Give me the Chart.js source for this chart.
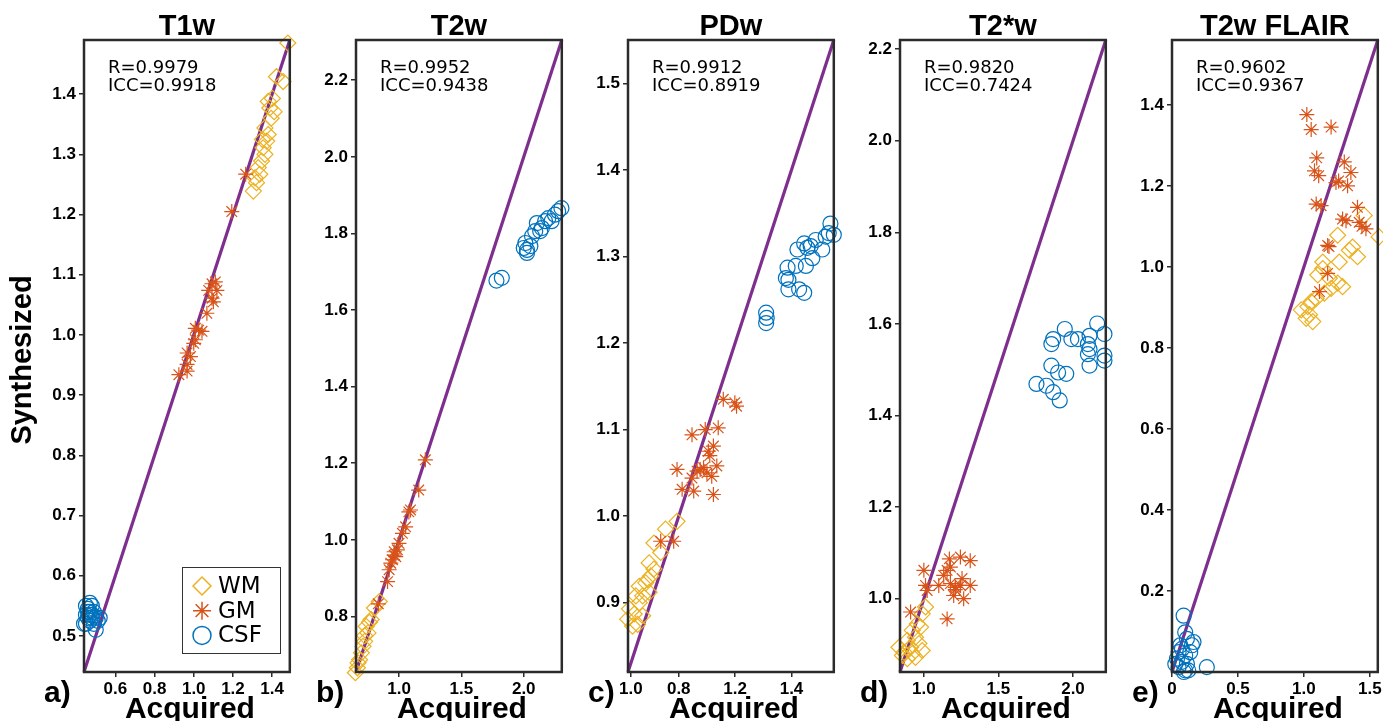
<!DOCTYPE html>
<html lang="en">
<head>
<meta charset="UTF-8">
<title>Synthesized vs Acquired</title>
<script src="https://cdn.jsdelivr.net/npm/chart.js@4.4.1/dist/chart.umd.min.js"></script>
<style>
    body { margin: 0; background: #fff; width: 1383px; height: 721px; overflow: hidden; position: relative; }
    canvas { position: absolute; top: 0; }
</style>
</head>
<body>
<script>
    // panel labels and stats
    const panelNames = ['T1w', 'T2w', 'PDw', 'T2*w', 'T2w FLAIR'];
    const panelLetters = ['a)', 'b)', 'c)', 'd)', 'e)'];
    const statR = ['0.9979', '0.9952', '0.9912', '0.9820', '0.9602'];
    const statICC = ['0.9918', '0.9438', '0.8919', '0.7424', '0.9367'];
    const tissueNames = ['WM', 'GM', 'CSF'];

    // same limits on both axes, identity line goes corner to corner
    const axisMin = [0.44, 0.655, 0.82, 0.84, 0];
    const axisMax = [1.49, 2.305, 1.55, 2.22, 1.56];

    const xTickVals = [[0.6, 0.8, 1.0, 1.2, 1.4], [1.0, 1.5, 2.0], [0.83, 1.0, 1.2, 1.4], [1.0, 1.5, 2.0], [0, 0.5, 1.0, 1.5]];
    const xTickLabels = [['0.6', '0.8', '1.0', '1.2', '1.4'], ['1.0', '1.5', '2.0'], ['1.0', '0.8', '1.2', '1.4'], ['1.0', '1.5', '2.0'], ['0', '0.5', '1.0', '1.5']];
    const yTickVals = [[0.5, 0.6, 0.7, 0.8, 0.9, 1.0, 1.1, 1.2, 1.3, 1.4], [0.8, 1.0, 1.2, 1.4, 1.6, 1.8, 2.0, 2.2], [0.9, 1.0, 1.1, 1.2, 1.3, 1.4, 1.5], [1.0, 1.2, 1.4, 1.6, 1.8, 2.0, 2.2], [0.2, 0.4, 0.6, 0.8, 1.0, 1.2, 1.4]];
    const yTickLabels = [['0.5', '0.6', '0.7', '0.8', '0.9', '1.0', '1.1', '1.2', '1.3', '1.4'], ['0.8', '1.0', '1.2', '1.4', '1.6', '1.8', '2.0', '2.2'], ['0.9', '1.0', '1.1', '1.2', '1.3', '1.4', '1.5'], ['1.0', '1.2', '1.4', '1.6', '1.8', '2.0', '2.2'], ['0.2', '0.4', '0.6', '0.8', '1.0', '1.2', '1.4']];

    // [acquired, synthesized]
    const wmT1 = [[1.48, 1.485], [1.422, 1.429], [1.456, 1.421], [1.401, 1.393], [1.388, 1.377], [1.38, 1.388], [1.41, 1.371], [1.363, 1.344], [1.38, 1.333], [1.372, 1.322], [1.354, 1.311], [1.363, 1.3], [1.346, 1.289], [1.329, 1.278], [1.337, 1.267], [1.312, 1.261], [1.32, 1.253], [1.304, 1.239], [1.395, 1.36], [1.35, 1.325]];
    const gmT1 = [[1.265, 1.267], [1.194, 1.205], [1.093, 1.085], [1.11, 1.088], [1.076, 1.074], [1.118, 1.074], [1.093, 1.061], [1.1, 1.055], [1.067, 1.036], [1.025, 1.008], [1.008, 1.011], [1.042, 1.006], [1.008, 0.992], [1.0, 0.986], [0.966, 0.97], [0.983, 0.964], [0.924, 0.934], [0.966, 0.94], [0.966, 0.951]];
    const csfT1 = [[0.45, 0.55], [0.46, 0.545], [0.47, 0.54], [0.48, 0.535], [0.46, 0.53], [0.45, 0.52], [0.47, 0.525], [0.49, 0.54], [0.5, 0.53], [0.51, 0.525], [0.48, 0.55], [0.47, 0.555], [0.46, 0.54], [0.49, 0.52], [0.5, 0.51], [0.44, 0.52], [0.45, 0.535], [0.48, 0.53], [0.47, 0.535], [0.52, 0.53]];

    const wmT2 = [[0.842, 0.839], [0.803, 0.822], [0.777, 0.792], [0.737, 0.774], [0.751, 0.757], [0.724, 0.735], [0.711, 0.722], [0.698, 0.705], [0.684, 0.687], [0.671, 0.679], [0.666, 0.666], [0.65, 0.653], [0.724, 0.75], [0.763, 0.785]];
    const gmT2 = [[1.211, 1.209], [1.158, 1.13], [1.092, 1.078], [1.079, 1.073], [1.053, 1.034], [1.027, 1.017], [1.0, 0.991], [0.987, 0.974], [0.961, 0.969], [0.974, 0.956], [0.948, 0.948], [0.934, 0.939], [0.921, 0.922], [0.908, 0.891], [0.834, 0.833], [0.961, 0.96]];
    const csfT2 = [[1.781, 1.677], [1.824, 1.684], [2.0, 1.762], [2.026, 1.749], [2.013, 1.775], [2.053, 1.767], [2.066, 1.793], [2.105, 1.827], [2.145, 1.814], [2.171, 1.832], [2.197, 1.84], [2.223, 1.832], [2.25, 1.849], [2.302, 1.866], [2.276, 1.858], [2.092, 1.806], [2.132, 1.806], [2.026, 1.757]];

    const wmPD = [[0.994, 0.994], [0.953, 0.985], [0.912, 0.969], [0.936, 0.958], [0.895, 0.946], [0.912, 0.939], [0.901, 0.931], [0.883, 0.923], [0.86, 0.919], [0.895, 0.912], [0.872, 0.908], [0.848, 0.908], [0.86, 0.9], [0.825, 0.893], [0.842, 0.887], [0.819, 0.881], [0.854, 0.875], [0.836, 0.873], [0.872, 0.885], [0.89, 0.927]];
    const gmPD = [[1.199, 1.131], [1.205, 1.127], [1.158, 1.135], [1.14, 1.102], [1.094, 1.1], [1.047, 1.094], [0.994, 1.054], [1.012, 1.031], [1.053, 1.029], [1.047, 1.044], [1.065, 1.052], [1.088, 1.056], [1.1, 1.05], [1.117, 1.046], [1.105, 1.075], [1.123, 1.081], [1.135, 1.058], [1.123, 1.025], [0.936, 0.971], [0.982, 0.971], [1.076, 1.054], [1.11, 1.07]];
    const csfPD = [[1.31, 1.235], [1.312, 1.229], [1.31, 1.223], [1.386, 1.287], [1.38, 1.275], [1.389, 1.273], [1.389, 1.262], [1.421, 1.308], [1.415, 1.289], [1.427, 1.262], [1.445, 1.258], [1.451, 1.289], [1.456, 1.31], [1.468, 1.312], [1.474, 1.298], [1.486, 1.319], [1.509, 1.308], [1.521, 1.323], [1.538, 1.338], [1.55, 1.325], [1.532, 1.327], [1.445, 1.315]];

    const wmT2s = [[1.011, 0.982], [0.989, 0.967], [0.956, 0.945], [0.978, 0.938], [0.922, 0.931], [0.944, 0.916], [0.889, 0.909], [0.967, 0.902], [0.833, 0.894], [0.911, 0.894], [0.867, 0.883], [0.922, 0.88], [0.989, 0.887], [0.889, 0.869], [0.856, 0.876], [0.944, 0.872], [0.9, 0.89]];
    const gmT2s = [[1.171, 1.087], [1.245, 1.091], [1.311, 1.083], [1.178, 1.069], [1.156, 1.062], [1.133, 1.051], [1.256, 1.044], [1.0, 1.062], [1.011, 1.029], [1.022, 1.018], [1.1, 1.029], [1.178, 1.033], [1.211, 1.025], [1.245, 1.029], [1.311, 1.029], [1.2, 1.007], [1.267, 1.0], [1.156, 0.956], [0.911, 0.971], [1.21, 1.02]];
    const csfT2s = [[2.162, 1.601], [1.945, 1.589], [1.867, 1.567], [1.855, 1.556], [1.989, 1.567], [2.033, 1.567], [2.111, 1.574], [2.211, 1.578], [2.1, 1.556], [2.111, 1.545], [2.1, 1.534], [2.211, 1.531], [1.855, 1.509], [1.9, 1.494], [1.955, 1.491], [1.755, 1.469], [1.822, 1.465], [1.867, 1.451], [1.911, 1.433], [2.111, 1.509], [2.211, 1.52]];

    const wmFL = [[1.457, 1.127], [1.256, 1.078], [1.57, 1.074], [1.369, 1.049], [1.406, 1.025], [1.344, 1.041], [1.143, 1.012], [1.268, 1.012], [1.105, 0.98], [1.143, 0.996], [1.193, 0.972], [1.256, 0.96], [1.293, 0.951], [1.206, 0.947], [1.155, 0.935], [1.093, 0.922], [0.98, 0.894], [1.03, 0.902], [1.042, 0.882], [1.067, 0.865], [1.017, 0.873], [1.055, 0.914]];
    const gmFL = [[1.022, 1.376], [1.055, 1.339], [1.206, 1.345], [1.097, 1.269], [1.08, 1.237], [1.112, 1.225], [1.306, 1.259], [1.356, 1.233], [1.243, 1.208], [1.263, 1.212], [1.331, 1.2], [1.093, 1.155], [1.13, 1.151], [1.406, 1.147], [1.293, 1.118], [1.319, 1.114], [1.419, 1.11], [1.47, 1.094], [1.44, 1.1], [1.18, 1.053], [1.19, 1.05], [1.18, 0.984], [1.118, 0.939]];
    const csfFL = [[0.088, 0.139], [0.1, 0.098], [0.113, 0.082], [0.163, 0.074], [0.151, 0.066], [0.063, 0.066], [0.05, 0.049], [0.1, 0.041], [0.038, 0.033], [0.075, 0.025], [0.113, 0.02], [0.05, 0.012], [0.1, 0.004], [0.264, 0.012], [0.138, 0.049], [0.075, 0.057], [0.123, 0.004], [0.025, 0.02], [0.09, 0.0]];

    const panelData = [
        [wmT1, gmT1, csfT1],
        [wmT2, gmT2, csfT2],
        [wmPD, gmPD, csfPD],
        [wmT2s, gmT2s, csfT2s],
        [wmFL, gmFL, csfFL]
    ];

    const tissueColors = ['#EDB120', '#D95319', '#0072BD'];
    const tissueMarkers = ['rectRot', 'star', 'circle'];
    const tissueRadius = [8, 7.5, 7.5];
    const lineColor = '#7E2F8E';
    const frameColor = '#2b2b2b';

    const PLOT_LEFT = 84, PLOT_TOP = 40, PLOT_BOTTOM = 672, PLOT_W = 208;
    const CANVAS_W = 299, CANVAS_H = 721, PANEL_STEP = 272;

    const toPoints = (arr) => arr.map(p => ({x: p[0], y: p[1]}));

    function panelTextPlugin(i) {
        return {
            id: 'panelText' + i,
            afterDraw(chart) {
                const ctx = chart.ctx;
                const a = chart.chartArea;
                const cx = (a.left + a.right) / 2;
                ctx.save();

                // box around the plot
                ctx.strokeStyle = frameColor;
                ctx.lineWidth = 2.5;
                ctx.strokeRect(a.left, a.top, a.right - a.left, a.bottom - a.top);

                ctx.fillStyle = '#000';
                ctx.textAlign = 'center';
                ctx.textBaseline = 'alphabetic';
                ctx.font = 'bold 29px "Liberation Sans", Arial, sans-serif';
                ctx.fillText(panelNames[i], cx, 35);

                ctx.font = 'bold 30px "Liberation Sans", Arial, sans-serif';
                ctx.fillText('Acquired', cx + 3, 718);

                ctx.textAlign = 'left';
                ctx.fillText(panelLetters[i], a.left - 40, 702);

                ctx.font = '18px "DejaVu Sans", sans-serif';
                ctx.fillText('R=' + statR[i], a.left + 24, 73);
                ctx.fillText('ICC=' + statICC[i], a.left + 24, 91);

                if (i === 0) {
                    // y axis title
                    ctx.save();
                    ctx.translate(23, 360);
                    ctx.rotate(-Math.PI / 2);
                    ctx.textAlign = 'center';
                    ctx.textBaseline = 'middle';
                    ctx.font = 'bold 29px "Liberation Sans", Arial, sans-serif';
                    ctx.fillText('Synthesized', 0, 0);
                    ctx.restore();

                    // legend box
                    const bx = 182, by = 567, bw = 98, bh = 86;
                    ctx.fillStyle = '#fff';
                    ctx.fillRect(bx, by, bw, bh);
                    ctx.strokeStyle = '#333';
                    ctx.lineWidth = 1;
                    ctx.strokeRect(bx + 0.5, by + 0.5, bw, bh);
                    ctx.font = '23px "DejaVu Sans", sans-serif';
                    ctx.textBaseline = 'middle';
                    tissueNames.forEach((name, k) => {
                        const ry = by + 19 + k * 24.7;
                        ctx.strokeStyle = tissueColors[k];
                        ctx.fillStyle = 'rgba(0,0,0,0)';
                        ctx.lineWidth = 1.5;
                        Chart.helpers.drawPoint(ctx, {pointStyle: tissueMarkers[k], radius: 9, rotation: 0, borderWidth: 1.5}, bx + 20, ry);
                        ctx.fillStyle = '#000';
                        ctx.fillText(name, bx + 36, ry + 1);
                    });
                }
                ctx.restore();
            }
        };
    }

    function makePanel(i) {
        const canvas = document.createElement('canvas');
        canvas.width = CANVAS_W;
        canvas.height = CANVAS_H;
        canvas.style.left = (PANEL_STEP * i) + 'px';
        canvas.style.width = CANVAS_W + 'px';
        canvas.style.height = CANVAS_H + 'px';
        document.body.appendChild(canvas);

        const lo = axisMin[i], hi = axisMax[i];
        const datasets = panelData[i].map((pts, k) => ({
            label: tissueNames[k],
            data: toPoints(pts),
            pointStyle: tissueMarkers[k],
            pointRadius: tissueRadius[k],
            borderColor: tissueColors[k],
            backgroundColor: 'rgba(0,0,0,0)',
            borderWidth: 1.2,
            clip: false,
            order: 3 - k
        }));
        datasets.push({
            label: 'identity',
            data: [{x: lo, y: lo}, {x: hi, y: hi}],
            showLine: true,
            borderColor: lineColor,
            borderWidth: 3.2,
            pointRadius: 0,
            clip: false,
            order: 10
        });

        const tickFont = {family: '"Liberation Sans", Arial, sans-serif', size: 17, weight: 'bold'};

        new Chart(canvas, {
            type: 'scatter',
            data: {datasets: datasets},
            options: {
                responsive: false,
                animation: false,
                devicePixelRatio: 1,
                layout: {padding: {top: PLOT_TOP, right: CANVAS_W - PLOT_LEFT - PLOT_W, left: 0, bottom: 0}},
                plugins: {legend: {display: false}, tooltip: {enabled: false}},
                scales: {
                    x: {
                        type: 'linear',
                        min: lo,
                        max: hi,
                        afterBuildTicks: (s) => { s.ticks = xTickVals[i].map(v => ({value: v})); },
                        afterFit: (s) => { s.height = CANVAS_H - PLOT_BOTTOM; s.paddingLeft = 0; s.paddingRight = 0; },
                        ticks: {
                            callback: (v, idx) => xTickLabels[i][idx],
                            font: tickFont,
                            color: '#000',
                            padding: 2,
                            maxRotation: 0,
                            autoSkip: false
                        },
                        grid: {drawOnChartArea: false, tickLength: 5, color: frameColor, lineWidth: 1.5},
                        border: {display: false}
                    },
                    y: {
                        type: 'linear',
                        min: lo,
                        max: hi,
                        afterBuildTicks: (s) => { s.ticks = yTickVals[i].map(v => ({value: v})); },
                        afterFit: (s) => { s.width = PLOT_LEFT; s.paddingTop = 0; s.paddingBottom = 0; },
                        ticks: {
                            callback: (v, idx) => yTickLabels[i][idx],
                            font: tickFont,
                            color: '#000',
                            padding: 3,
                            autoSkip: false
                        },
                        grid: {drawOnChartArea: false, tickLength: 5, color: frameColor, lineWidth: 1.5},
                        border: {display: false}
                    }
                }
            },
            plugins: [panelTextPlugin(i)]
        });
    }

    for (let i = 0; i < panelNames.length; i++) {
        makePanel(i);
    }
</script>
</body>
</html>
